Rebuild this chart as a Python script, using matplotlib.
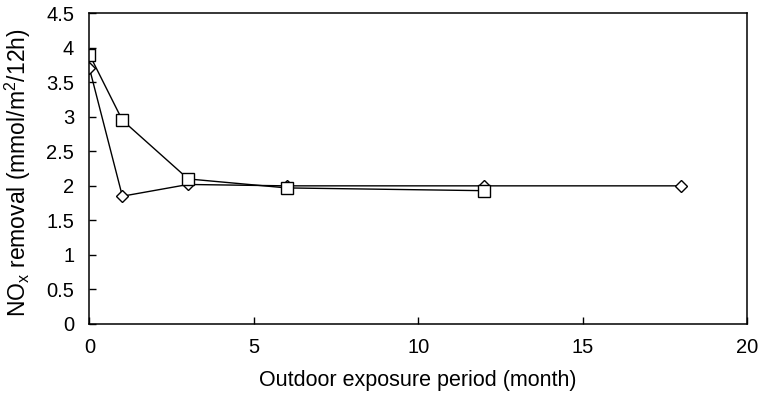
import matplotlib.pyplot as plt
import numpy as np

plt.rcParams['font.family'] = ['Liberation Sans', 'DejaVu Sans']
plt.rcParams['mathtext.fontset'] = 'custom'
plt.rcParams['mathtext.rm'] = 'Liberation Sans'
plt.rcParams['mathtext.it'] = 'Liberation Sans'

# square series
months_sq = [0, 1, 3, 6, 12]
nox_sq = [3.9, 2.95, 2.1, 1.97, 1.93]

# diamond series
months_di = [0, 1, 3, 6, 12, 18]
nox_di = [3.7, 1.85, 2.02, 2.0, 2.0, 2.0]

fig = plt.figure(figsize=(7.61, 3.99), dpi=100)
ax = fig.add_axes([0.1176, 0.188, 0.864, 0.779])

ax.plot(months_di, nox_di, color='black', linewidth=1.0, marker='D', markersize=5.7,
        markerfacecolor='white', markeredgecolor='black', markeredgewidth=1.0)
ax.plot(months_sq, nox_sq, color='black', linewidth=1.0, marker='s', markersize=8,
        markerfacecolor='white', markeredgecolor='black', markeredgewidth=1.0)

ax.set_xlim(0, 20)
ax.set_ylim(0, 4.5)
ax.set_xticks([0, 5, 10, 15, 20])
ax.set_yticks(np.arange(0, 4.6, 0.5))
ax.set_yticklabels(['0', '0.5', '1', '1.5', '2', '2.5', '3', '3.5', '4', '4.5'])
ax.tick_params(direction='in', labelsize=14.5, length=5, width=1)
ax.tick_params(axis='y', pad=11)
ax.tick_params(axis='x', pad=10)

for s in ax.spines.values():
    s.set_linewidth(1.1)

ax.set_xlabel('Outdoor exposure period (month)', fontsize=15.5)
ax.set_ylabel('NO$_\\mathrm{x}$ removal (mmol/m$^2$/12h)', fontsize=16.5)
ax.xaxis.set_label_coords(0.5, -0.148)
ax.yaxis.set_label_coords(-0.086, 0.486)

fig.savefig('out.png', dpi=100)
